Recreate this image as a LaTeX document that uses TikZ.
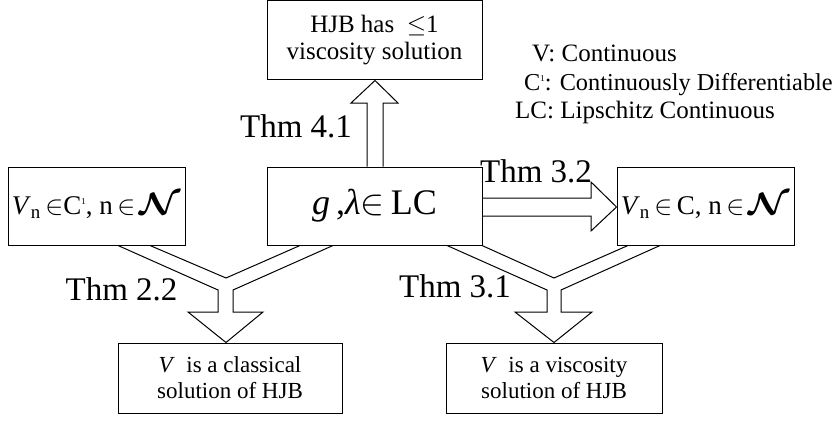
\RequirePackage{fix-cm}
\documentclass[tikz,border=0pt]{standalone}
\usepackage{graphicx}
\usepackage{bm}
\usepackage{fontspec}
\setmainfont{Liberation Serif}
\newcommand{\calN}{\scalebox{1.4}[1.15]{$\bm{\mathcal{N}}$}}
\newcommand{\supone}[1]{\raisebox{#1}{\fontsize{9}{9}\selectfont 1}}
\begin{document}
\begin{tikzpicture}[x=1pt,y=-1pt,
  box/.style={draw, line width=1pt, inner sep=0pt, align=center},
  blk/.style={draw, line width=1pt, line join=miter},
  thm/.style={anchor=base, inner sep=0pt, font=\fontsize{33}{33}\selectfont},
  leg/.style={anchor=base west, inner sep=0pt, font=\fontsize{25}{25}\selectfont}]
\useasboundingbox (0,0) rectangle (838,428);

% boxes
\node[box, minimum width=215pt, minimum height=79pt, font=\fontsize{25}{27}\selectfont] (top) at (374.5,40.5) {HJB has\ \ $\leq$1\\viscosity solution};
\node[box, minimum width=215pt, minimum height=78pt, font=\fontsize{36}{36}\selectfont] (mid) at (374.5,206) {\textit{g}\,,\textit{λ}$\in$\,LC};
\node[box, minimum width=177pt, minimum height=78pt, font=\fontsize{27}{27}\selectfont] (lb) at (96.5,206) {\textit{V}\textsubscript{n}\,$\in$C\supone{10pt}, n\,$\in$\,\calN};
\node[box, minimum width=177pt, minimum height=78pt, font=\fontsize{27}{27}\selectfont] (rb) at (705.5,206) {\textit{V}\textsubscript{n}\,$\in$\,C, n\,$\in$\,\calN};
\node[box, minimum width=224pt, minimum height=70pt, font=\fontsize{23}{26}\selectfont] (bl) at (230,378) {\textit{V}\ \ is a classical\\solution of HJB};
\node[box, minimum width=216pt, minimum height=70pt, font=\fontsize{23}{26}\selectfont] (br) at (554,378) {\textit{V}\ \ is a viscosity\\solution of HJB};

% hollow arrows
\draw[blk] (mid.north -| 367,0) -- (367,103) -- (351,103) -- (top.south -| 375,0) -- (398,103) -- (383,103) -- (mid.north -| 383,0);
\draw[blk] (mid.east |- 0,198) -- (591,198) -- (591,182) -- (rb.west |- 0,207) -- (591,231) -- (591,216) -- (mid.east |- 0,216);
\draw[blk] (lb.south -| 118,0) -- (218,290) -- (218,312) -- (188,312) -- (bl.north -| 226,0) -- (263,312) -- (233,312) -- (233,290) -- (mid.south -| 333,0);
\draw[blk] (lb.south -| 150,0) -- (226,278) -- (mid.south -| 300,0);
\draw[blk] (mid.south -| 447,0) -- (547,290) -- (547,312) -- (515,312) -- (br.north -| 554,0) -- (592,312) -- (561,312) -- (561,290) -- (rb.south -| 660,0);
\draw[blk] (mid.south -| 482,0) -- (554,278) -- (rb.south -| 628,0);

% labels
\node[thm] (t41) at (296,137) {Thm 4.1};
\node[thm] (t32) at (536,182) {Thm 3.2};
\node[thm] (t22) at (121.5,300) {Thm 2.2};
\node[thm] (t31) at (455,297) {Thm 3.1};

% legend
\node[leg] (l1) at (532,62) {V: Continuous};
\node[leg, font=\fontsize{24.3}{25}\selectfont] (l2) at (524,90) {C\supone{9pt}: Continuously Differentiable};
\node[leg] (l3) at (515,118) {LC: Lipschitz Continuous};
\end{tikzpicture}
\end{document}
